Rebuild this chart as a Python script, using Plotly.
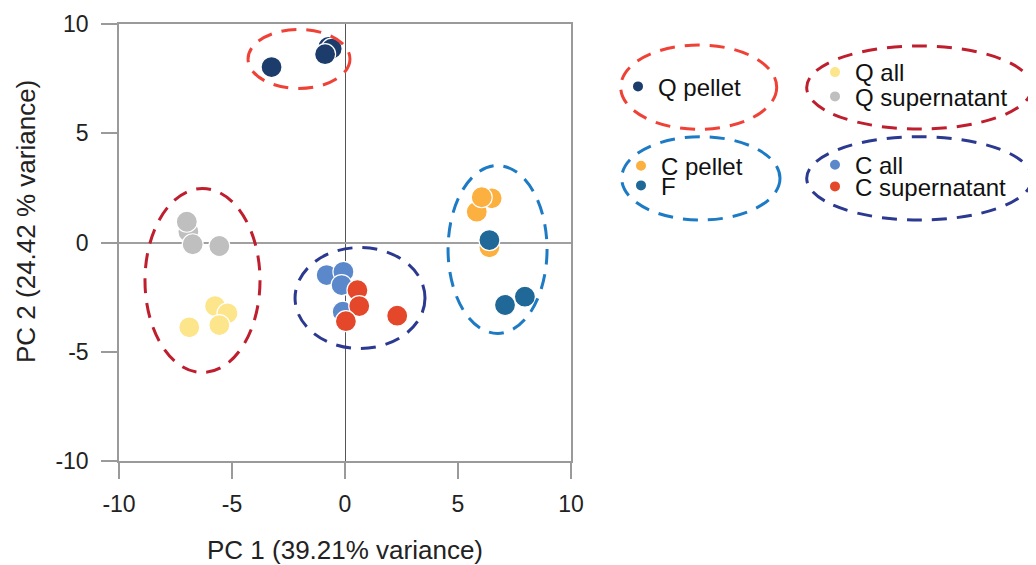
import plotly.graph_objects as go

# ---- data ----
q_pellet_x = [-0.74, -0.59, -0.88, -3.25]
q_pellet_y = [8.95, 8.87, 8.62, 8.03]

q_all_x = [-5.75, -5.20, -5.56, -6.89]
q_all_y = [-2.91, -3.24, -3.78, -3.88]

q_sup_x = [-6.93, -7.00, -6.74, -5.56]
q_sup_y = [0.49, 0.95, -0.08, -0.16]

c_pellet_x = [6.49, 5.83, 6.05, 6.39]
c_pellet_y = [2.02, 1.41, 2.07, -0.22]

f_x = [6.39, 7.96, 7.08]
f_y = [0.11, -2.48, -2.86]

c_all_x = [-0.10, -0.81, -0.07, -0.15]
c_all_y = [-3.17, -1.49, -1.34, -1.95]

c_sup_x = [0.55, 0.63, 0.04, 2.31]
c_sup_y = [-2.18, -2.91, -3.60, -3.35]

tick_vals = [-10, -5, 0, 5, 10]
tick_text = ["-10", "-5", "0", "5", "10"]

# cluster ellipses (x0, x1, y0, y1) in data units
ell_q_pellet = (-4.29, 0.22, 7.05, 9.75)
ell_q = (-8.85, -3.76, -5.95, 2.47)
ell_c = (-2.21, 3.54, -4.85, -0.23)
ell_f = (4.56, 8.94, -4.16, 3.52)

COL_QP = "#1c3d6c"
COL_QA = "#fde58b"
COL_QS = "#bfbfbf"
COL_CP = "#fbb040"
COL_F = "#1f6898"
COL_CA = "#5a88ca"
COL_CS = "#e4472a"

E_LRED = "#ef4136"
E_CRIM = "#be1e2d"
E_BLUE = "#1c7bc4"
E_NAVY = "#2b3990"

FONT = "Liberation Sans, Arial, sans-serif"

# page body margin shifts the figure; compensate
OFFS = 8
FIG_W, FIG_H = 1036 - OFFS, 565 - OFFS

fig = go.Figure()

def add(name, xs, ys, color, legend):
    fig.add_trace(go.Scatter(
        x=xs, y=ys, mode="markers", name=name, legend=legend, showlegend=True,
        marker=dict(size=21, color=color, line=dict(color="white", width=1.2)),
    ))

add("Q pellet", q_pellet_x, q_pellet_y, COL_QP, "legend")
add("Q all", q_all_x, q_all_y, COL_QA, "legend2")
add("Q supernatant", q_sup_x, q_sup_y, COL_QS, "legend3")
add("C pellet", c_pellet_x, c_pellet_y, COL_CP, "legend4")
add("F", f_x, f_y, COL_F, "legend5")
add("C all", c_all_x, c_all_y, COL_CA, "legend6")
add("C supernatant", c_sup_x, c_sup_y, COL_CS, "legend7")

DASH = "15px,10px"
shapes = []
for (x0, x1, y0, y1), col in [(ell_q_pellet, E_LRED), (ell_q, E_CRIM), (ell_c, E_NAVY), (ell_f, E_BLUE)]:
    shapes.append(dict(type="circle", xref="x", yref="y", x0=x0, x1=x1, y0=y0, y1=y1,
                       line=dict(color=col, width=3, dash=DASH), layer="above"))

# plot area in reference pixels
L, T, W, H = 119, 24, 452, 437
def px(v):
    return (v - L) / W
def py(v):
    return (T + H - v) / H

# legend ellipses (paper coordinates)
for (a, b, c, d), col in [((620.7, 776.7, 45, 129.3), E_LRED),
                          ((806.7, 1032, 46, 129), E_CRIM),
                          ((621.7, 780, 136.7, 220), E_BLUE),
                          ((806.7, 1032, 136.7, 220), E_NAVY)]:
    shapes.append(dict(type="circle", xref="paper", yref="paper",
                       x0=px(a), x1=px(b), y0=py(d), y1=py(c),
                       line=dict(color=col, width=3, dash=DASH)))

axis_common = dict(
    range=[-10, 10], showgrid=False, showline=True, linecolor="#9a9a9a", linewidth=1.5,
    mirror=True, ticks="outside", ticklen=16, tickcolor="#9a9a9a", tickwidth=1.5,
    tickfont=dict(family=FONT, size=23, color="#222"), zeroline=True,
    tickvals=tick_vals, ticktext=tick_text,
)

leg_common = dict(bgcolor="rgba(0,0,0,0)", font=dict(family=FONT, size=24, color="#111"),
                  xanchor="left", yanchor="top", itemsizing="constant")

OFF = 24  # legend top -> item centre
leg_pos = {
    "legend": (618, 88.3),
    "legend2": (815, 74),
    "legend3": (815, 98.3),
    "legend4": (621, 167.7),
    "legend5": (621, 187.3),
    "legend6": (815, 166.7),
    "legend7": (815, 188.3),
}
legends = {k: dict(leg_common, x=px(a), y=py(b - OFF)) for k, (a, b) in leg_pos.items()}

fig.update_layout(
    width=FIG_W, height=FIG_H,
    margin=dict(l=L - OFFS, r=FIG_W - (L - OFFS) - W, t=T - OFFS, b=FIG_H - (T - OFFS) - H,
                autoexpand=False),
    plot_bgcolor="white", paper_bgcolor="white",
    showlegend=True,
    xaxis=dict(axis_common, zerolinecolor="#555", zerolinewidth=1, ticklabelstandoff=6),
    yaxis=dict(axis_common, zerolinecolor="#a0a0a0", zerolinewidth=1.5, ticklabelstandoff=8),
    shapes=shapes,
    annotations=[
        dict(text="PC 1 (39.21% variance)", xref="paper", yref="paper", x=0.5, y=py(550),
             xanchor="center", yanchor="middle", showarrow=False,
             font=dict(family=FONT, size=26, color="#222")),
        dict(text="PC 2 (24.42 % variance)", xref="paper", yref="paper", x=px(26), y=py(222),
             xanchor="center", yanchor="middle", showarrow=False, textangle=-90,
             font=dict(family=FONT, size=26, color="#222")),
    ],
    **legends,
)

fig.write_html("out.html")
